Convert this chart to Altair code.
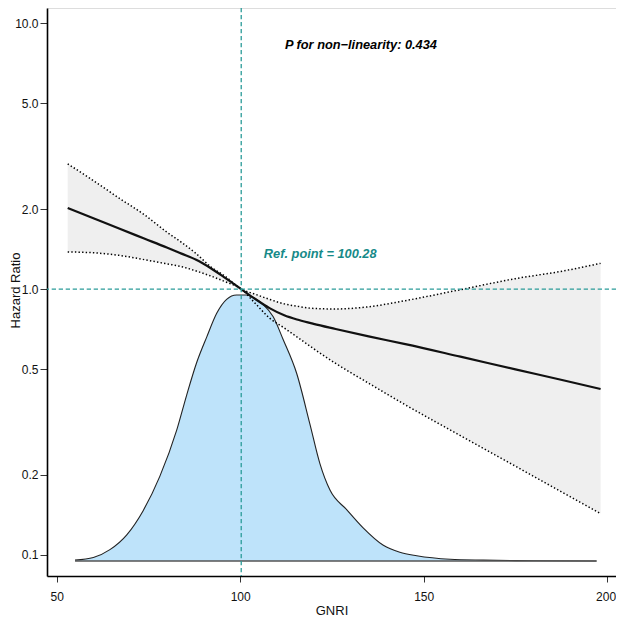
import altair as alt
import pandas as pd

# ---- spline (hazard ratio) data ----
gnri = [53.0, 60.0, 67.0, 74.0, 80.0, 84.0, 88.0, 92.0, 96.0, 100.28, 104.0, 108.0,
        112.0, 116.0, 120.0, 126.0, 135.0, 145.0, 160.0, 175.0, 188.0, 198.2]
hr_mid = [2.02, 1.848, 1.690, 1.547, 1.434, 1.36, 1.289, 1.198, 1.100, 1.00, 0.920,
          0.848, 0.797, 0.765, 0.740, 0.708, 0.664, 0.621, 0.557, 0.499, 0.454, 0.421]
hr_upper = [2.96, 2.56, 2.20, 1.90, 1.639, 1.50, 1.36, 1.213, 1.115, 1.00, 0.958,
            0.915, 0.880, 0.860, 0.846, 0.842, 0.858, 0.905, 0.995, 1.095, 1.170, 1.25]
hr_lower = [1.38, 1.37, 1.34, 1.29, 1.245, 1.215, 1.17, 1.12, 1.065, 1.00, 0.887,
            0.778, 0.714, 0.653, 0.597, 0.5255, 0.4426, 0.367, 0.281, 0.2157, 0.1713,
            0.143]

# ---- GNRI distribution (density) ----
dens_x = [55.0, 60.0, 64.5, 69.1, 73.6, 78.1, 82.7, 85.4, 88.1, 90.9, 93.6, 96.3,
          99.0, 101.8, 104.0, 106.3, 109.0, 111.7, 115.4, 119.0, 121.7, 124.5,
          129.0, 133.5, 139.0, 143.5, 148.1, 157.2, 166.2, 180.0, 197.1]
dens_y = [0.0001, 0.0004, 0.0013, 0.0030, 0.0058, 0.0097, 0.0150, 0.0190, 0.0227,
          0.0257, 0.0284, 0.0300, 0.0305, 0.0305, 0.0301, 0.0294, 0.0280, 0.0254,
          0.0215, 0.0157, 0.0112, 0.0081, 0.0059, 0.0038, 0.0018, 0.0010, 0.0006,
          0.0002, 0.0001, 0.00003, 0.0]

ref_point = 100.28
p_text = "P for non\u2212linearity: 0.434"
ref_text = "Ref. point = 100.28"
x_ticks = [50, 100, 150, 200]
y_ticks = [0.1, 0.2, 0.5, 1.0, 2.0, 5.0, 10.0]

TEAL = "#2B9C99"
TEAL_TXT = "#168A88"
FONT = "Liberation Sans"

curve = pd.DataFrame({"gnri": gnri, "hr": hr_mid, "lower": hr_lower, "upper": hr_upper})
dens = pd.DataFrame({"gnri": dens_x, "density": dens_y, "base": [0.0] * len(dens_x)})
base_df = pd.DataFrame({"gnri": [dens_x[0]], "x1": [dens_x[-1]], "y": [0.0]})
ref_df = pd.DataFrame({"gnri": [ref_point], "one": [1.0]})
txt_df = pd.DataFrame({"gnri": [132.9, 121.8], "y": [8.29, 1.352],
                       "label": [p_text, ref_text], "kind": ["p", "ref"]})

x_scale = alt.Scale(domain=[47.36, 202.4], nice=False, zero=False)
y_scale = alt.Scale(type="log", domain=[0.0833, 11.42], nice=False)
d_scale = alt.Scale(domain=[-0.00172, 0.06341], nice=False, zero=False)

x_axis = alt.Axis(values=x_ticks, title="GNRI", grid=False, domainColor="black",
                  domainWidth=1.6, tickColor="#333", tickSize=6, tickWidth=1,
                  labelPadding=9, labelFontSize=12, titleFontSize=13,
                  titleFontWeight="normal", labelColor="#111", titleColor="#111",
                  labelFont=FONT, titleFont=FONT, titlePadding=2, labelFlush=False,
                  labelOffset={"condition": {"test": "datum.value >= 200",
                                             "value": -1.6},
                               "value": 0})
y_axis = alt.Axis(values=y_ticks, format=".1f", title="Hazard Ratio", grid=False,
                  domainColor="black", domainWidth=1.6, tickColor="#333", tickSize=7,
                  tickWidth=1, labelPadding=2, labelFontSize=12, titleFontSize=13,
                  titleFontWeight="normal", labelColor="#111", titleColor="#111",
                  labelFont=FONT, titleFont=FONT, titleX=-32, titleY=282,
                  titleBaseline="middle", titleAngle=270)

X = alt.X("gnri:Q", scale=x_scale, axis=x_axis)

band = alt.Chart(curve).mark_area(color="#EFEFEF", opacity=1,
                                  interpolate="monotone").encode(
    x=X,
    y=alt.Y("lower:Q", scale=y_scale, axis=y_axis),
    y2="upper:Q",
)

dens_area = alt.Chart(dens).mark_area(
    color="#BEE3FA", opacity=1, interpolate="monotone",
    line={"color": "#222222", "strokeWidth": 1.1},
).encode(
    x=X,
    y=alt.Y("density:Q", scale=d_scale, axis=None),
    y2="base:Q",
)
dens_base = alt.Chart(base_df).mark_rule(color="#555555", strokeWidth=1.4).encode(
    x=X,
    x2="x1:Q",
    y=alt.Y("y:Q", scale=d_scale, axis=None),
)

def ci_line(col):
    return alt.Chart(curve).mark_line(
        color="black", strokeDash=[1.4, 2.2], strokeWidth=1.5, interpolate="monotone"
    ).encode(
        x=X,
        y=alt.Y(f"{col}:Q", scale=y_scale, axis=None),
    )

mid = alt.Chart(curve).mark_line(color="#111111", strokeWidth=2.2,
                                 interpolate="monotone").encode(
    x=X,
    y=alt.Y("hr:Q", scale=y_scale, axis=None),
)

vrule = alt.Chart(ref_df).mark_rule(color=TEAL, strokeDash=[4.3, 2.7],
                                    strokeWidth=1.3).encode(x=X)
hrule = alt.Chart(ref_df).mark_rule(color=TEAL, strokeDash=[4.3, 2.7],
                                    strokeWidth=1.3).encode(
    y=alt.Y("one:Q", scale=y_scale, axis=None),
)

texts = alt.Chart(txt_df).mark_text(
    font=FONT, fontSize=12.8, fontWeight="bold", fontStyle="italic",
    align="center", baseline="middle",
).encode(
    x=X,
    y=alt.Y("y:Q", scale=y_scale, axis=None),
    text="label:N",
    color=alt.Color("kind:N", scale=alt.Scale(domain=["p", "ref"],
                                              range=["#000000", TEAL_TXT]),
                    legend=None),
)

lower_layer = alt.layer(band)
dens_layer = alt.layer(dens_area, dens_base)
top_layer = alt.layer(ci_line("upper"), ci_line("lower"), mid, vrule, hrule, texts)

chart = alt.layer(lower_layer, dens_layer, top_layer).resolve_scale(
    y="independent"
).properties(
    width=569, height=568,
    padding={"left": 39, "top": 0, "right": 0, "bottom": 41},
    autosize=alt.AutoSizeParams(type="none"),
).configure_view(stroke=None).configure(font=FONT)

chart.save("out.html", embed_options={"renderer": "svg", "actions": False})
